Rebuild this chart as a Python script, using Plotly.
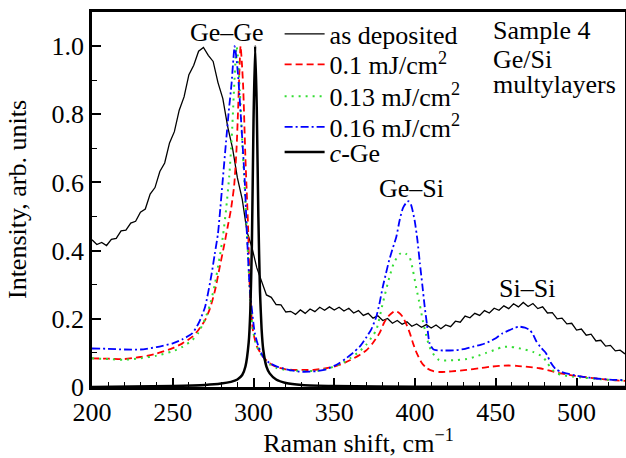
import plotly.graph_objects as go

# ---- data ----
dep_x = [200, 203, 206, 209, 212, 215, 218, 221, 224, 227, 230, 233, 236, 239, 242, 245, 248, 251, 254, 257,
         260, 263, 266, 269, 272, 275, 278, 281, 284, 287, 290, 293, 296, 299, 302, 305, 308, 311, 314, 317,
         320, 323, 326, 329, 332, 335, 338, 341, 344, 347, 350, 353, 356, 359, 362, 365, 368, 371, 374, 377,
         380, 383, 386, 389, 392, 395, 398, 401, 404, 407, 410, 413, 416, 419, 422, 425, 428, 431, 434, 437,
         440, 443, 446, 449, 452, 455, 458, 461, 464, 467, 470, 473, 476, 479, 482, 485, 488, 491, 494, 497,
         500, 503, 506, 509, 512, 515, 518, 521, 524, 527, 530]
dep_y = [0.432, 0.418, 0.424, 0.415, 0.433, 0.436, 0.458, 0.460, 0.481, 0.486, 0.513, 0.522, 0.566, 0.585,
         0.632, 0.657, 0.716, 0.749, 0.812, 0.851, 0.916, 0.944, 0.985, 0.996, 0.973, 0.955, 0.893, 0.846,
         0.764, 0.701, 0.614, 0.551, 0.455, 0.410, 0.350, 0.312, 0.270, 0.263, 0.242, 0.241, 0.220, 0.222,
         0.213, 0.226, 0.216, 0.229, 0.221, 0.234, 0.225, 0.235, 0.226, 0.234, 0.223, 0.231, 0.217, 0.224,
         0.210, 0.216, 0.202, 0.209, 0.195, 0.201, 0.187, 0.195, 0.184, 0.191, 0.178, 0.185, 0.175, 0.183,
         0.173, 0.182, 0.171, 0.182, 0.177, 0.193, 0.190, 0.208, 0.203, 0.216, 0.210, 0.224, 0.217, 0.231,
         0.225, 0.238, 0.230, 0.244, 0.235, 0.248, 0.236, 0.245, 0.230, 0.235, 0.217, 0.218, 0.200, 0.202,
         0.185, 0.187, 0.167, 0.170, 0.152, 0.155, 0.135, 0.137, 0.120, 0.122, 0.106, 0.108, 0.097]

r_x = [200, 210, 220, 230, 240, 250, 256, 262, 266, 270, 273, 276, 279, 282, 284, 286, 288, 289.5, 290.5,
       291.3, 292, 292.8, 293.6, 295, 296, 296.7, 297.7, 299.6, 302, 306, 310, 314, 320, 325, 330, 337, 345,
       350, 355, 360, 365, 370, 374, 378, 381, 384, 387.5, 390, 392.5, 395, 397, 399, 401, 404, 407, 411,
       415, 420, 425, 432, 440, 446, 452, 458, 463, 470, 477, 484, 490, 497, 504, 512, 520, 530]
r_y = [0.084, 0.083, 0.082, 0.088, 0.098, 0.114, 0.128, 0.147, 0.168, 0.196, 0.23, 0.28, 0.35, 0.42, 0.47,
       0.52, 0.59, 0.70, 0.82, 0.93, 1.0, 0.95, 0.88, 0.67, 0.55, 0.46, 0.29, 0.167, 0.12, 0.088, 0.070,
       0.059, 0.052, 0.050, 0.050, 0.050, 0.055, 0.060, 0.068, 0.079, 0.092, 0.108, 0.130, 0.158, 0.190,
       0.210, 0.223, 0.218, 0.205, 0.180, 0.155, 0.125, 0.100, 0.072, 0.056, 0.047, 0.044, 0.045, 0.047,
       0.050, 0.055, 0.059, 0.062, 0.063, 0.062, 0.059, 0.055, 0.047, 0.040, 0.034, 0.030, 0.025, 0.021,
       0.018]

g_x = [200, 210, 220, 230, 240, 250, 256, 262, 266, 270, 273, 276, 279, 281, 283, 285, 286.5, 287.8, 289,
       289.5, 290.3, 291.5, 293, 294.5, 296, 297.5, 299.5, 302, 306, 310, 314, 320, 325, 332, 340, 345, 350,
       355, 360, 365, 370, 373, 376, 380, 384, 387, 390.5, 392.5, 394.6, 396.7, 398.8, 400.8, 403, 404.8,
       407, 409, 412, 415, 420, 426, 432, 438, 444, 450, 454, 459, 463, 468, 473, 479, 482, 485, 488, 491,
       498, 505, 512, 520, 530]
g_y = [0.084, 0.082, 0.080, 0.084, 0.092, 0.105, 0.118, 0.137, 0.16, 0.20, 0.24, 0.30, 0.38, 0.44, 0.52,
       0.62, 0.73, 0.86, 0.97, 1.0, 0.97, 0.87, 0.72, 0.59, 0.45, 0.30, 0.17, 0.12, 0.085, 0.066, 0.056,
       0.050, 0.048, 0.047, 0.048, 0.053, 0.060, 0.070, 0.085, 0.102, 0.125, 0.145, 0.167, 0.245, 0.32,
       0.365, 0.39, 0.395, 0.39, 0.38, 0.34, 0.29, 0.24, 0.195, 0.15, 0.117, 0.092, 0.079, 0.078, 0.079,
       0.082, 0.09, 0.10, 0.11, 0.117, 0.118, 0.115, 0.11, 0.103, 0.089, 0.07, 0.05, 0.04, 0.035, 0.03,
       0.027, 0.024, 0.021, 0.019]

b_x = [200, 210, 220, 230, 240, 250, 256, 262, 266, 270, 274, 276, 278, 279, 281, 283, 284.7, 286.4, 287.5,
       288.3, 289.3, 290.5, 292.6, 294.6, 296, 297.7, 300.8, 303, 306, 310, 314.5, 320, 328.6, 335, 340, 345,
       350, 353, 357, 361.6, 366, 370, 373, 376, 378, 380, 382, 384, 386.4, 388.4, 390.5, 392.5, 394.5, 396,
       397.5, 399.7, 401.5, 403, 404.5, 406, 407.5, 409, 411, 413, 418, 425.6, 431, 435.7, 441, 446, 450,
       454, 459, 462, 464.7, 468, 471, 473, 475, 478, 481, 484, 487, 490, 493.6, 499, 504, 512, 520, 530]
b_y = [0.113, 0.112, 0.110, 0.110, 0.117, 0.128, 0.140, 0.157, 0.187, 0.235, 0.33, 0.39, 0.45, 0.50, 0.61,
       0.72, 0.81, 0.89, 0.96, 1.0, 0.97, 0.91, 0.76, 0.60, 0.44, 0.29, 0.158, 0.12, 0.088, 0.070, 0.06,
       0.052, 0.045, 0.045, 0.047, 0.052, 0.062, 0.070, 0.083, 0.10, 0.12, 0.147, 0.17, 0.206, 0.245, 0.293,
       0.333, 0.372, 0.41, 0.44, 0.49, 0.525, 0.54, 0.545, 0.535, 0.49, 0.43, 0.363, 0.30, 0.235, 0.18,
       0.128, 0.112, 0.108, 0.107, 0.108, 0.112, 0.118, 0.124, 0.133, 0.143, 0.157, 0.168, 0.174, 0.177,
       0.174, 0.167, 0.155, 0.135, 0.115, 0.1, 0.072, 0.053, 0.045, 0.04, 0.034, 0.03, 0.025, 0.022, 0.02]

c_x = [200, 250, 270, 280, 286, 290, 293, 295, 297, 298, 299, 300, 301, 302, 303, 304, 305, 306, 308, 310,
       314, 320, 330, 350, 400, 530]
c_y = [0.0, 0.003, 0.006, 0.01, 0.015, 0.022, 0.035, 0.06, 0.13, 0.22, 0.42, 0.78, 1.0, 0.82, 0.5, 0.28,
       0.17, 0.11, 0.06, 0.04, 0.022, 0.012, 0.006, 0.003, 0.001, 0.0]

names = ["as deposited", "0.1 mJ/cm<sup>2</sup>", "0.13 mJ/cm<sup>2</sup>", "0.16 mJ/cm<sup>2</sup>",
         "<i>c</i>-Ge"]
y_tickvals = [0, 0.2, 0.4, 0.6, 0.8, 1.0]
y_ticktext = ["0", "0.2", "0.4", "0.6", "0.8", "1.0"]
x_tickvals = [200, 250, 300, 350, 400, 450, 500]

FONT = "'Liberation Serif', 'DejaVu Serif', serif"
legend_ids = ["legend", "legend2", "legend3", "legend4", "legend5"]
legend_rows = [1.004, 0.923, 0.838, 0.756, 0.689]

fig = go.Figure()
fig.add_trace(go.Scatter(x=dep_x, y=dep_y, mode="lines", name=names[0], legend=legend_ids[0],
                         line=dict(color="black", width=1.3)))
fig.add_trace(go.Scatter(x=r_x, y=r_y, mode="lines", name=names[1], line_shape="spline", legend=legend_ids[1],
                         line=dict(color="#ff0000", width=1.8, dash="7px,4px", smoothing=0.6)))
fig.add_trace(go.Scatter(x=g_x, y=g_y, mode="lines", name=names[2], line_shape="spline", legend=legend_ids[2],
                         line=dict(color="#33dd33", width=2, dash="2px,5px", smoothing=0.6)))
fig.add_trace(go.Scatter(x=b_x, y=b_y, mode="lines", name=names[3], line_shape="spline", legend=legend_ids[3],
                         line=dict(color="#0000ff", width=1.8, dash="8px,3px,2px,3px", smoothing=0.6)))
fig.add_trace(go.Scatter(x=c_x, y=c_y, mode="lines", name=names[4], line_shape="spline", legend=legend_ids[4],
                         line=dict(color="black", width=2.5, smoothing=0.5)))

ann_font = dict(family=FONT, size=26, color="black")
fig.add_annotation(x=283.5, y=1.04, text="Ge–Ge", showarrow=False, font=ann_font)
fig.add_annotation(x=397.6, y=0.583, text="Ge–Si", showarrow=False, font=ann_font)
fig.add_annotation(x=469.6, y=0.29, text="Si–Si", showarrow=False, font=ann_font)
for txt, yy in [("Sample 4", 1.045), ("Ge/Si", 0.96), ("multylayers", 0.887)]:
    fig.add_annotation(x=447.2, y=yy, text=txt, showarrow=False, xanchor="left", font=ann_font)

legend_layout = {}
for lid, ly in zip(legend_ids, legend_rows):
    legend_layout[lid] = dict(x=0.352, y=ly, xanchor="left", yanchor="top", bgcolor="rgba(0,0,0,0)",
                              itemwidth=40, font=dict(family=FONT, size=26, color="black"))

fig.update_layout(
    width=626, height=458,
    margin=dict(l=92, r=1, t=12, b=71, autoexpand=False),
    paper_bgcolor="white", plot_bgcolor="white",
    font=dict(family=FONT, size=26, color="black"),
    showlegend=True,
    **legend_layout,
)
fig.update_xaxes(range=[200, 530], tickvals=x_tickvals, ticks="inside", ticklen=9, tickwidth=1.5,
                 tickcolor="black", showline=True, linewidth=2.5, linecolor="black", mirror=True,
                 showgrid=False, zeroline=False, tickfont=dict(family=FONT, size=26), automargin=False,
                 minor=dict(dtick=10, ticks="inside", ticklen=5, tickwidth=1.2, tickcolor="black",
                            showgrid=False),
                 title=dict(text="Raman shift, cm<sup>−1</sup>", font=dict(family=FONT, size=26),
                            standoff=8))
fig.update_yaxes(range=[0, 1.1], tickvals=y_tickvals, ticktext=y_ticktext, ticks="inside", ticklen=9,
                 tickwidth=1.5, tickcolor="black", showline=True, linewidth=2.5, linecolor="black",
                 mirror=True, showgrid=False, zeroline=False, tickfont=dict(family=FONT, size=26),
                 automargin=False,
                 minor=dict(dtick=0.1, ticks="inside", ticklen=5, tickwidth=1.2, tickcolor="black",
                            showgrid=False),
                 title=dict(text="Intensity, arb. units", font=dict(family=FONT, size=26), standoff=18))

fig.write_html("out.html", config={"displayModeBar": False},
               post_script="document.body.style.margin='0px';")
